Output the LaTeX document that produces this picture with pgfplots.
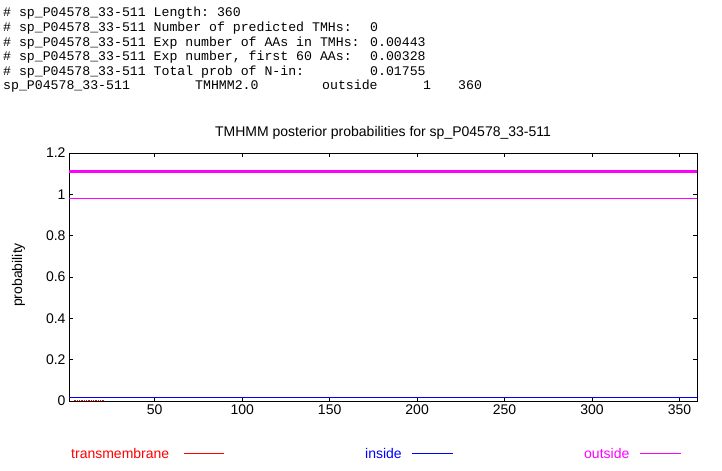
\documentclass[border=0pt]{standalone}
\usepackage{fontspec}
\setmainfont{Liberation Sans}
\newfontfamily\monofont{Liberation Mono}
\usepackage{pgfplots}
\pgfplotsset{compat=1.18}
\definecolor{gpmag}{RGB}{255,0,255}
\definecolor{gpblue}{RGB}{0,0,255}
\definecolor{gpred}{RGB}{255,0,0}
\begin{document}
\begin{tikzpicture}[x=1bp,y=1bp]
\useasboundingbox (0,0) rectangle (722,471);
% ---- header text ----
\begin{scope}[every node/.style={anchor=base west, inner sep=0, font=\monofont\fontsize{13.2bp}{15bp}\selectfont}]
\node at (3,454) {\#\ sp\_P04578\_33-511\ Length:\ 360};
\node at (3,439.4) {\#\ sp\_P04578\_33-511\ Number\ of\ predicted\ TMHs:};
\node at (370,439.4) {0};
\node at (3,424.8) {\#\ sp\_P04578\_33-511\ Exp\ number\ of\ AAs\ in\ TMHs:};
\node at (370,424.8) {0.00443};
\node at (3,410.2) {\#\ sp\_P04578\_33-511\ Exp\ number,\ first\ 60\ AAs:};
\node at (370,410.2) {0.00328};
\node at (3,395.6) {\#\ sp\_P04578\_33-511\ Total\ prob\ of\ N-in:};
\node at (370,395.6) {0.01755};
\node at (3,381) {sp\_P04578\_33-511};
\node at (195,381) {TMHMM2.0};
\node at (322,381) {outside};
\node at (423,381) {1};
\node at (458,381) {360};
\end{scope}
% ---- title and y label ----
\node[anchor=base, inner sep=0, font=\fontsize{14bp}{16bp}\selectfont] at (383,334) {TMHMM posterior probabilities for sp\_P04578\_33-511};
\node[rotate=90, anchor=base, inner sep=0, font=\fontsize{14bp}{16bp}\selectfont] at (22,196) {probability};
% ---- axis ----
\begin{axis}[
  at={(69bp,70bp)}, anchor=south west,
  scale only axis, width=628bp, height=248bp,
  xmin=1, xmax=360, ymin=0, ymax=1.2,
  xtick={50,100,150,200,250,300,350},
  ytick={0,0.2,0.4,0.6,0.8,1,1.2},
  tick align=inside, major tick length=4bp,
  tick style={black, line width=0.6bp},
  axis line style={black, line width=0.8bp},
  ticklabel style={font=\fontsize{14bp}{16bp}\selectfont},
  /pgf/number format/assume math mode=true,
]
\addplot[gpmag, line width=3bp] coordinates {(1,1.11) (360,1.11)};
\addplot[gpmag, line width=0.9bp] coordinates {(1,0.982) (360,0.982)};
\addplot[gpblue, line width=0.9bp] coordinates {(1,0.0175) (360,0.0175)};
\addplot[gpred, ycomb, line width=1bp] coordinates {
 (4,0.004) (5,0.004) (6,0.004) (7,0.004) (8,0.004) (9,0.004) (10,0.004)
 (11,0.004) (12,0.004) (13,0.004) (14,0.004) (15,0.004) (16,0.004)
 (17,0.004) (18,0.004) (19,0.004) (20,0.004) (21,0.004)};
\end{axis}
% ---- legend ----
\node[anchor=base west, inner sep=0, text=gpred, font=\fontsize{14bp}{16bp}\selectfont] at (71,12) {transmembrane};
\draw[gpred, line width=0.8bp] (184,18) -- (224,18);
\node[anchor=base west, inner sep=0, text=gpblue, font=\fontsize{14bp}{16bp}\selectfont] at (365,12) {inside};
\draw[gpblue, line width=0.8bp] (412,18) -- (453,18);
\node[anchor=base west, inner sep=0, text=gpmag, font=\fontsize{14bp}{16bp}\selectfont] at (584,12) {outside};
\draw[gpmag, line width=0.8bp] (640,18) -- (681,18);
\end{tikzpicture}
\end{document}
